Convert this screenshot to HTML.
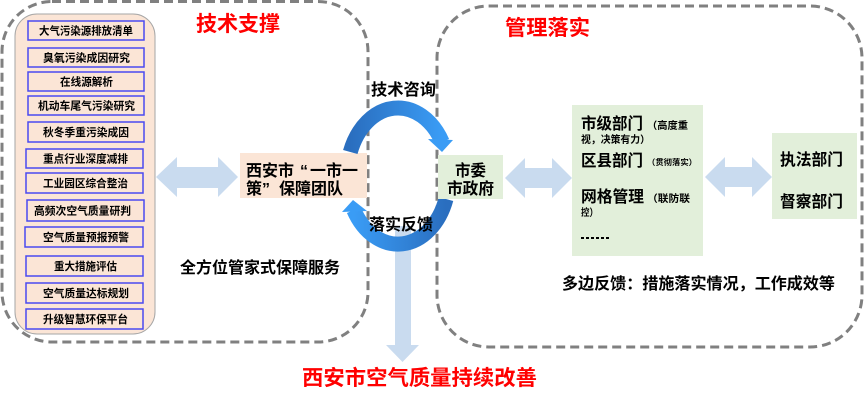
<!DOCTYPE html>
<html><head><meta charset="utf-8">
<style>
html,body{margin:0;padding:0;background:#fff;}
svg{display:block;}
text{font-family:"Liberation Sans","Noto Sans CJK SC",sans-serif;font-weight:bold;fill:#000;}
.it{font-size:11px;}
.red{fill:#ff0000;font-size:21px;}
.m{font-size:16px;}
</style></head><body>
<svg width="865" height="401" viewBox="0 0 865 401" xmlns="http://www.w3.org/2000/svg">
<defs>
<linearGradient id="gt" x1="0" y1="0" x2="1" y2="0"><stop offset="0" stop-color="#2a6ebf"/><stop offset="1" stop-color="#3a9cf5"/></linearGradient>
<linearGradient id="gb" x1="0" y1="0" x2="1" y2="0"><stop offset="0" stop-color="#3a9cf5"/><stop offset="1" stop-color="#2a6ebf"/></linearGradient>
</defs>

<!-- dashed containers -->
<rect x="2" y="1.5" width="366" height="340.5" rx="50" fill="none" stroke="#808080" stroke-width="3" stroke-dasharray="9 5"/>
<rect x="437" y="6" width="425" height="341" rx="52" fill="none" stroke="#808080" stroke-width="3" stroke-dasharray="9 5"/>

<!-- inner peach panel -->
<rect x="15" y="14" width="140" height="320" rx="22" fill="#fbe5d6" stroke="#a6a6a6" stroke-width="1"/>

<g fill="#fbe5d6" stroke="#4a4af0" stroke-width="1.5">
<rect x="28" y="21" width="116" height="19"/>
<rect x="28" y="48" width="116" height="19"/>
<rect x="28" y="72" width="116" height="19"/>
<rect x="28" y="96" width="116" height="19"/>
<rect x="28" y="122" width="116" height="20"/>
<rect x="26" y="149" width="117" height="19"/>
<rect x="26" y="173" width="117" height="20"/>
<rect x="27" y="200" width="117" height="21"/>
<rect x="25" y="227" width="118" height="20"/>
<rect x="26" y="256" width="117" height="20"/>
<rect x="26" y="283" width="117" height="20"/>
<rect x="26" y="309" width="117" height="20"/>
</g>
<g class="it" text-anchor="middle">
<text class="it" x="86" y="34.5" textLength="94" lengthAdjust="spacingAndGlyphs">大气污染源排放清单</text>
<text class="it" x="86.5" y="61.5" textLength="87" lengthAdjust="spacingAndGlyphs">臭氧污染成因研究</text>
<text class="it" x="86.5" y="85.5" textLength="53" lengthAdjust="spacingAndGlyphs">在线源解析</text>
<text class="it" x="86.5" y="109.5" textLength="97" lengthAdjust="spacingAndGlyphs">机动车尾气污染研究</text>
<text class="it" x="86" y="136" textLength="86" lengthAdjust="spacingAndGlyphs">秋冬季重污染成因</text>
<text class="it" x="85.5" y="162.5" textLength="85" lengthAdjust="spacingAndGlyphs">重点行业深度减排</text>
<text class="it" x="85.5" y="187" textLength="85" lengthAdjust="spacingAndGlyphs">工业园区综合整治</text>
<text class="it" x="82.5" y="214.5" textLength="97" lengthAdjust="spacingAndGlyphs">高频次空气质量研判</text>
<text class="it" x="86" y="241" textLength="86" lengthAdjust="spacingAndGlyphs">空气质量预报预警</text>
<text class="it" x="85.5" y="270" textLength="63" lengthAdjust="spacingAndGlyphs">重大措施评估</text>
<text class="it" x="86" y="297" textLength="86" lengthAdjust="spacingAndGlyphs">空气质量达标规划</text>
<text class="it" x="85.5" y="323" textLength="85" lengthAdjust="spacingAndGlyphs">升级智慧环保平台</text>
</g>

<!-- titles -->
<text class="red" x="196" y="31" textLength="84" lengthAdjust="spacingAndGlyphs">技术支撑</text>
<text class="red" x="505" y="35" textLength="85" lengthAdjust="spacingAndGlyphs">管理落实</text>
<text class="red" x="302" y="385" textLength="235" lengthAdjust="spacingAndGlyphs">西安市空气质量持续改善</text>

<!-- light blue arrows -->
<g fill="#c9dbef">
<polygon points="156,177 177,157 177,167 218,167 218,157 238,177 218,197 218,188 177,188 177,197"/>
<polygon points="505,178 525,158 525,168 552,168 552,158 572,178 552,198 552,188 525,188 525,198"/>
<polygon points="705,177 725,157 725,167 752,167 752,157 772,177 752,197 752,187 725,187 725,197"/>
<rect x="395" y="226" width="16" height="120"/>
<polygon points="386,345 419,345 402.5,362"/>
</g>

<!-- team box -->
<rect x="240" y="153" width="127" height="45" fill="#fbe5d6"/>
<text class="m" y="176"><tspan x="246">西安市</tspan><tspan x="300">“</tspan><tspan x="310">一市一</tspan></text>
<text class="m" y="194"><tspan x="246">策</tspan><tspan x="262">”</tspan><tspan x="279">保障团队</tspan></text>

<!-- circular arrows -->
<path d="M350.3 152 A51 68 0 0 1 442.2 142" fill="none" stroke="url(#gt)" stroke-width="15"/>
<polygon points="428,139 453,140 442,152" fill="#3a9cf5"/>
<path d="M446 199 A51 68 0 0 1 353.8 210" fill="none" stroke="url(#gb)" stroke-width="15"/>
<polygon points="342,212 367,211 353,200" fill="#3a9cf5"/>

<text class="m" x="371" y="95" textLength="65" lengthAdjust="spacingAndGlyphs">技术咨询</text>
<text class="m" x="369" y="230" textLength="64" lengthAdjust="spacingAndGlyphs">落实反馈</text>

<text class="m" x="180" y="273" textLength="160" lengthAdjust="spacingAndGlyphs">全方位管家式保障服务</text>
<text class="m" x="562" y="289" textLength="273" lengthAdjust="spacingAndGlyphs">多边反馈：措施落实情况，工作成效等</text>

<!-- 市委市政府 -->
<rect x="438" y="155" width="65" height="44" fill="#e2efda"/>
<text class="m" x="455" y="176" textLength="31" lengthAdjust="spacingAndGlyphs">市委</text>
<text class="m" x="447" y="194" textLength="47" lengthAdjust="spacingAndGlyphs">市政府</text>

<!-- big green box -->
<rect x="572" y="105" width="131" height="151" fill="#e2efda"/>
<text class="m" x="581" y="129" textLength="62" lengthAdjust="spacingAndGlyphs">市级部门</text>
<text x="647" y="129" style="font-size:10px" textLength="41" lengthAdjust="spacingAndGlyphs">（高度重</text>
<text x="581" y="143" style="font-size:10px" textLength="69" lengthAdjust="spacingAndGlyphs">视，决策有力）</text>
<text class="m" x="581" y="166" textLength="62" lengthAdjust="spacingAndGlyphs">区县部门</text>
<text x="647" y="165" style="font-size:8px" textLength="50" lengthAdjust="spacingAndGlyphs">（贯彻落实）</text>
<text class="m" x="581" y="202" textLength="63" lengthAdjust="spacingAndGlyphs">网格管理</text>
<text x="647" y="202" style="font-size:10px" textLength="43" lengthAdjust="spacingAndGlyphs">（联防联</text>
<text x="581" y="216" style="font-size:10px" textLength="17" lengthAdjust="spacingAndGlyphs">控）</text>
<g fill="#000">
<rect x="581" y="237" width="3" height="2"/><rect x="586" y="237" width="3" height="2"/><rect x="591" y="237" width="3" height="2"/>
<rect x="596" y="237" width="3" height="2"/><rect x="601" y="237" width="3" height="2"/><rect x="606" y="237" width="3" height="2"/>
</g>

<!-- right green box -->
<rect x="772" y="133" width="85" height="86" fill="#e2efda"/>
<text class="m" x="780" y="165" textLength="63" lengthAdjust="spacingAndGlyphs">执法部门</text>
<text class="m" x="780" y="207" textLength="63" lengthAdjust="spacingAndGlyphs">督察部门</text>
</svg>
</body></html>
